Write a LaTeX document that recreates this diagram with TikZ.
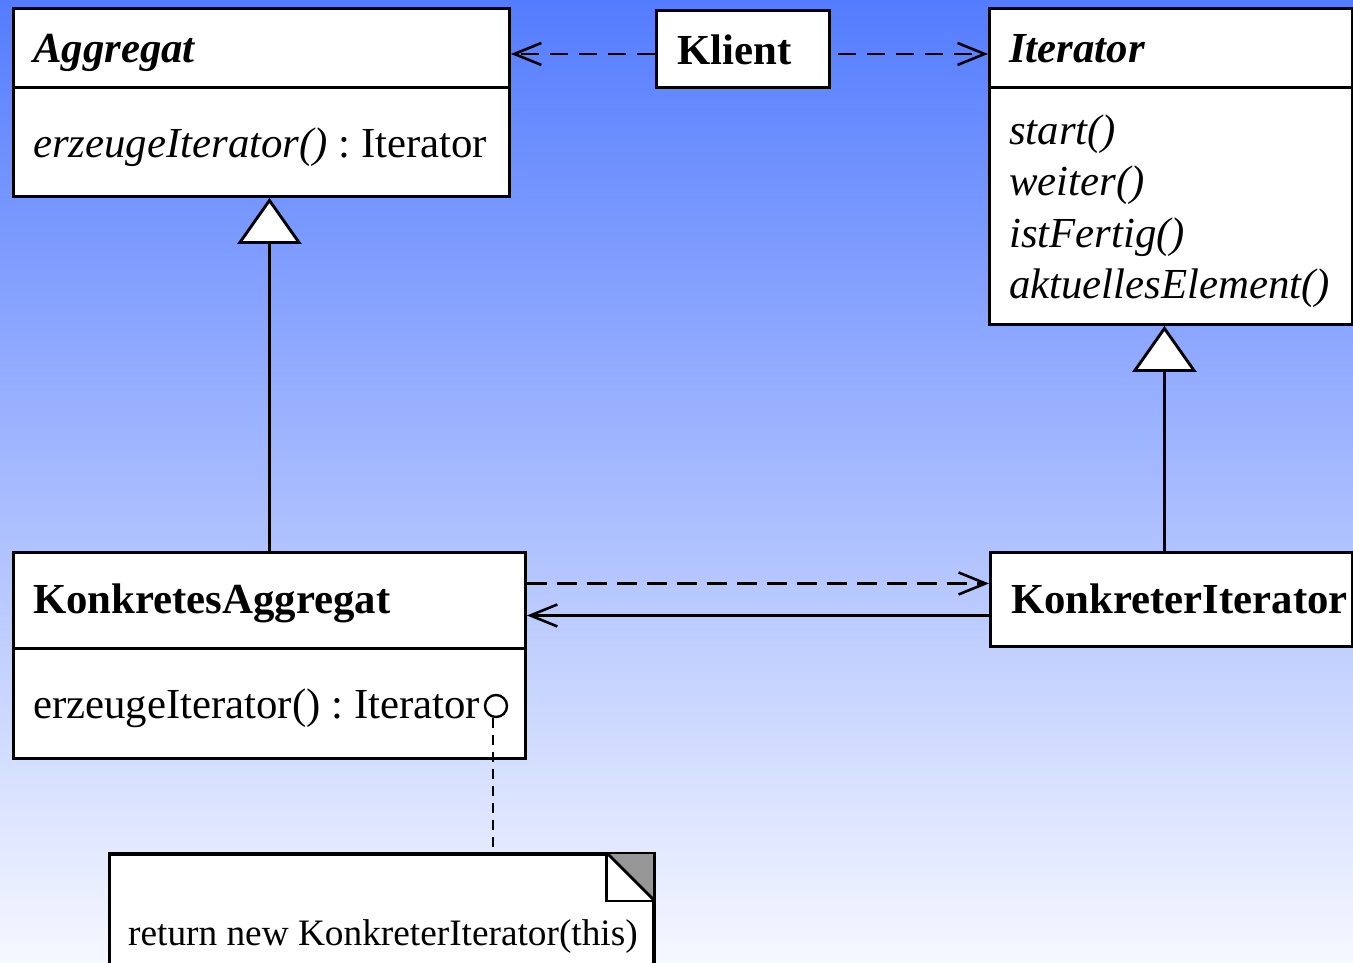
\documentclass[tikz,border=0pt]{standalone}
\usepackage{fontspec}
\setmainfont{Liberation Serif}
\usetikzlibrary{arrows.meta}

\definecolor{bgtop}{RGB}{84,124,255}
\definecolor{bgbot}{RGB}{246,248,255}
\definecolor{earfill}{RGB}{150,150,150}

\tikzset{
  cls/.style={draw, fill=white, line width=2.9pt, inner sep=0pt, anchor=north west},
  lbl/.style={anchor=base west, inner sep=0pt, font=\fontsize{42.8}{51}\selectfont},
  notelbl/.style={anchor=base west, inner sep=0pt, font=\fontsize{37.3}{44}\selectfont},
  conn/.style={line width=2.6pt},
  dep/.style={conn, dash pattern=on 18pt off 11pt, -{Straight Barb[length=27pt,width=22pt,line width=2.6pt]}},
  assoc/.style={conn, -{Straight Barb[length=27pt,width=22pt,line width=2.6pt]}},
  inherit/.style={conn, -{Triangle[open,length=46pt,width=64pt,fill=white,line width=2.9pt]}},
  notelink/.style={line width=2.5pt, dash pattern=on 10pt off 7pt},
}

\begin{document}
\frenchspacing
\begin{tikzpicture}[x=1pt,y=-1pt]
  % background
  \useasboundingbox (0,0) rectangle (1353,962);
  \shade[top color=bgtop, bottom color=bgbot] (0,0) rectangle (1353,962);
  \clip (0,0) rectangle (1353,962);

  % abstract aggregate
  \node[cls, minimum width=496pt, minimum height=79pt] (aggrHead) at (12,7) {};
  \node[cls, minimum width=496pt, minimum height=109pt] (aggrBody) at (12,86) {};
  \node[lbl] (aggrName) at (33,62) {\textbf{\textit{Aggregat}}};
  \node[lbl] (aggrOp) at (33,157) {\textit{erzeugeIterator()} : Iterator};

  % client
  \node[cls, minimum width=173pt, minimum height=77pt] (klient) at (655,9) {};
  \node[lbl] (klientName) at (677,64) {\textbf{Klient}};

  % abstract iterator
  \node[cls, minimum width=363pt, minimum height=79pt] (iterHead) at (988,7) {};
  \node[cls, minimum width=363pt, minimum height=237pt] (iterBody) at (988,86) {};
  \node[lbl] (iterName) at (1009,62) {\textbf{\textit{Iterator}}};
  \node[lbl] (opStart) at (1009,144) {\textit{start()}};
  \node[lbl] (opWeiter) at (1009,195) {\textit{weiter()}};
  \node[lbl] (opFertig) at (1009,247) {\textit{istFertig()}};
  \node[lbl] (opAktuell) at (1009,298) {\textit{aktuellesElement()}};

  % concrete aggregate
  \node[cls, minimum width=512pt, minimum height=96pt] (kaHead) at (12,551) {};
  \node[cls, minimum width=512pt, minimum height=110pt] (kaBody) at (12,647) {};
  \node[lbl] (kaName) at (33,613) {\textbf{KonkretesAggregat}};
  \node[lbl] (kaOp) at (33,718) {erzeugeIterator() : Iterator};

  % concrete iterator
  \node[cls, minimum width=362pt, minimum height=94pt] (kiHead) at (989,551) {};
  \node[lbl] (kiName) at (1011,613) {\textbf{KonkreterIterator}};

  % implementation note with folded corner
  \node[cls, minimum width=544pt, minimum height=140pt] (note) at (108,853) {};
  \node[notelbl] (noteText) at (128,945) {return new KonkreterIterator(this)};
  \coordinate (earA) at ([xshift=-48pt]note.north east);
  \coordinate (earB) at ([yshift=-48pt]note.north east);
  \fill[earfill] (earA) -- (note.north east) -- (earB) -- cycle;
  \draw[line width=2.9pt, line join=miter] (earA) -- (earA |- earB) -- (earB);
  \draw[line width=2.9pt] (earA) -- (earB);
  \draw[line width=2.9pt] (note.north west) -- (note.north east) -- (note.south east);

  % connectors
  \draw[dep] ([yshift=-5pt]klient.west) -- ([yshift=-5pt]klient.west -| aggrHead.east);
  \draw[dep, shorten <=7pt] ([yshift=-5pt]klient.east) -- ([yshift=-5pt]klient.east -| iterHead.west);
  \draw[inherit] (kaHead.north) -- (kaHead.north |- aggrBody.south);
  \draw[inherit] ([xshift=-7pt]kiHead.north) -- ([xshift=-7pt]kiHead.north |- iterBody.south);
  \draw[dep, dash pattern=on 20pt off 10pt] ([yshift=17pt]kaHead.east) -- ([yshift=17pt]kaHead.east -| kiHead.west);
  \draw[assoc] ([yshift=-16pt]kiHead.west) -- ([yshift=-16pt]kiHead.west -| kaHead.east);

  % note attachment
  \node[draw, circle, line width=2.4pt, minimum size=22pt, inner sep=0pt] (hook) at (496,706) {};
  \draw[notelink] ([xshift=-3pt]hook.south) -- ([xshift=-3pt]hook.south |- note.north);
\end{tikzpicture}
\end{document}
